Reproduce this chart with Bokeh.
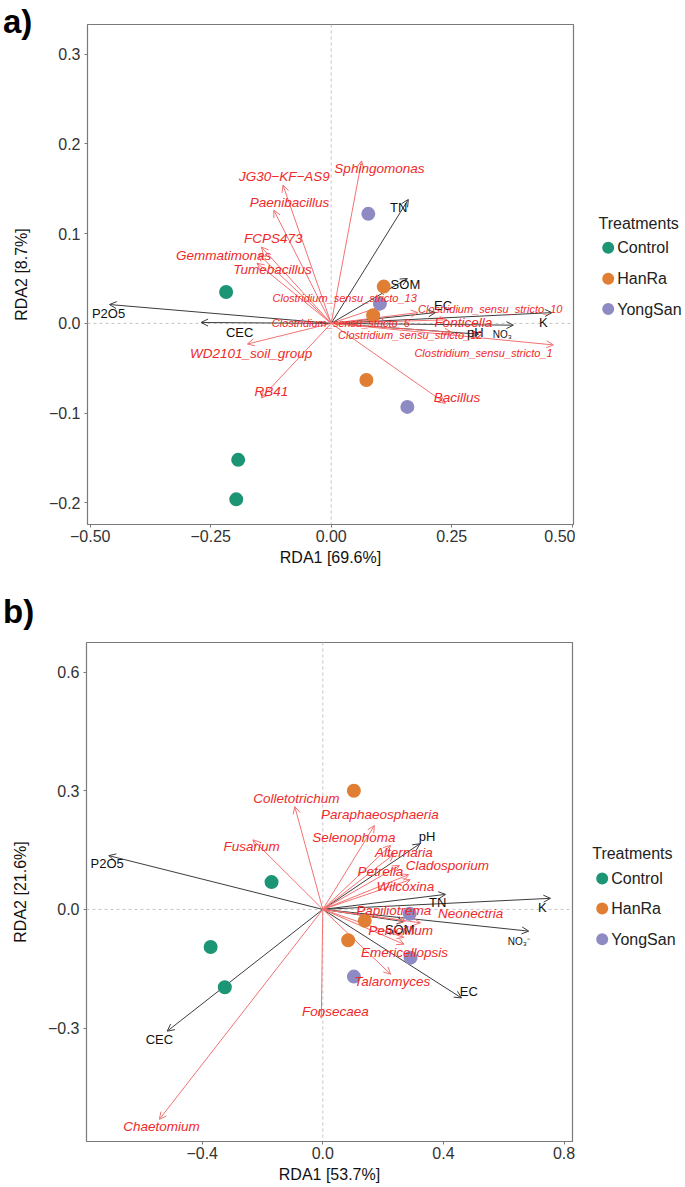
from bokeh.plotting import figure
from bokeh.models import (Range1d, FixedTicker, CustomJSTickFormatter, Arrow, OpenHead,
                          ColumnDataSource, Span, Div)
from bokeh.layouts import column, row
from bokeh.embed import file_html
from bokeh.resources import INLINE
from bokeh.core.properties import value

FONT = "Liberation Sans"

treatments = ["Control", "HanRa", "YongSan"]
treat_colors = ["#1B9574", "#E07F33", "#8E8AC4"]

# ---------------- panel a (bacteria) ----------------
a_sample_treat = ["Control", "Control", "Control", "HanRa", "HanRa", "HanRa",
                  "YongSan", "YongSan", "YongSan"]
a_sample_x = [-0.218, -0.193, -0.197, 0.109, 0.087, 0.073, 0.077, 0.101, 0.158]
a_sample_y = [0.035, -0.152, -0.196, 0.041, 0.009, -0.063, 0.122, 0.022, -0.093]

a_env_names = ["P2O5", "CEC", "TN", "SOM", "EC", "K", "pH", "NO\u2083"]
a_env_x = [-0.460, -0.270, 0.160, 0.158, 0.216, 0.458, 0.306, 0.378]
a_env_y = [0.021, 0.001, 0.138, 0.050, 0.012, 0.012, -0.012, -0.002]
a_env_lx = [-0.462, -0.190, 0.140, 0.154, 0.232, 0.440, 0.299, 0.355]
a_env_ly = [0.0115, -0.0097, 0.129, 0.043, 0.020, 0.0007, -0.0105, -0.012]

a_sp_names = ["Sphingomonas", "JG30\u2212KF\u2212AS9", "Paenibacillus", "FCPS473",
              "Gemmatimonas", "Tumebacillus", "Clostridium_sensu_stricto_13",
              "Clostridium_sensu_stricto_10", "Fonticella", "Clostridium_sensu_stricto_6",
              "Clostridium_sensu_stricto_12", "Clostridium_sensu_stricto_1",
              "WD2101_soil_group", "RB41", "Bacillus"]
a_sp_x = [0.063, -0.100, -0.119, -0.145, -0.151, -0.154, 0.110,
          0.180, 0.240, 0.100, 0.250, 0.461, -0.174, -0.145, 0.237]
a_sp_y = [0.181, 0.154, 0.126, 0.085, 0.077, 0.067, 0.020,
          0.012, 0.004, 0.004, -0.010, -0.024, -0.023, -0.083, -0.089]
a_sp_lx = [0.100, -0.097, -0.0865, -0.120, -0.223, -0.122, 0.028,
           0.330, 0.274, 0.020, 0.164, 0.316, -0.166, -0.124, 0.261]
a_sp_ly = [0.173, 0.164, 0.135, 0.094, 0.076, 0.0595, 0.028,
           0.0163, 0.0015, 0.000, -0.013, -0.033, -0.0335, -0.0756, -0.083]

a_xticks = [-0.50, -0.25, 0.00, 0.25, 0.50]
a_yticks = [-0.2, -0.1, 0.0, 0.1, 0.2, 0.3]
a_xlabel = "RDA1 [69.6%]"
a_ylabel = "RDA2 [8.7%]"

# ---------------- panel b (fungi) ----------------
b_sample_treat = a_sample_treat
b_sample_x = [-0.170, -0.372, -0.325, 0.103, 0.139, 0.084, 0.288, 0.291, 0.103]
b_sample_y = [0.069, -0.095, -0.197, 0.300, -0.029, -0.078, -0.011, -0.122, -0.170]

b_env_names = ["P2O5", "CEC", "pH", "TN", "K", "NO\u2083\u207b", "SOM", "EC"]
b_env_x = [-0.710, -0.516, 0.322, 0.407, 0.755, 0.683, 0.269, 0.460]
b_env_y = [0.136, -0.308, 0.166, 0.038, 0.028, -0.055, -0.031, -0.224]
b_env_lx = [-0.715, -0.542, 0.346, 0.381, 0.728, 0.650, 0.255, 0.484]
b_env_ly = [0.115, -0.330, 0.185, 0.017, 0.006, -0.080, -0.050, -0.207]

b_sp_names = ["Chaetomium", "Fonsecaea", "Colletotrichum", "Fusarium",
              "Paraphaeosphaeria", "Selenophoma", "Alternaria", "Cladosporium",
              "Petrella", "Wilcoxina", "Papiliotrema", "Neonectria", "Penicillium",
              "Emericellopsis", "Talaromyces"]
b_sp_x = [-0.542, -0.005, -0.093, -0.232, 0.171, 0.225, 0.235, 0.285,
          0.254, 0.290, 0.274, 0.324, 0.269, 0.269, 0.225]
b_sp_y = [-0.531, -0.275, 0.260, 0.176, 0.212, 0.162, 0.139, 0.088,
          0.111, 0.075, -0.029, -0.034, -0.071, -0.088, -0.164]
b_sp_lx = [-0.535, 0.042, -0.088, -0.236, 0.189, 0.103, 0.269, 0.413,
           0.191, 0.274, 0.235, 0.490, 0.258, 0.271, 0.230]
b_sp_ly = [-0.548, -0.259, 0.281, 0.159, 0.239, 0.181, 0.144, 0.111,
           0.096, 0.057, -0.004, -0.011, -0.053, -0.108, -0.182]

b_xticks = [-0.4, 0.0, 0.4, 0.8]
b_yticks = [-0.3, 0.0, 0.3, 0.6]
b_xlabel = "RDA1 [53.7%]"
b_ylabel = "RDA2 [21.6%]"

ENV_LINE = "#3c3c3c"
ENV_TEXT = "#111111"
SP_LINE = "#F27272"
SP_TEXT = "#EE2A2A"
FRAME = "#7a7a7a"


def make_panel(width, height, xr, yr, borders, samples, env, sp, xticks, yticks,
               xdig, ydig, xlabel, ylabel):
    mbl, mbr, mbt, mbb = borders
    p = figure(width=width, height=height, x_range=Range1d(*xr), y_range=Range1d(*yr),
               toolbar_location=None, output_backend="svg",
               min_border_left=mbl, min_border_right=mbr, min_border_top=mbt,
               min_border_bottom=mbb, background_fill_color="white",
               border_fill_alpha=0.0)
    p.grid.visible = False
    p.outline_line_color = FRAME
    p.outline_line_width = 1.2

    for dim in ("width", "height"):
        p.add_layout(Span(location=0, dimension=dim, line_color="#c4c4c4",
                          line_dash="3 3", line_width=1, level="underlay"))

    # arrows
    for (names, xs, ys, lxs, lys), lc in ((env, ENV_LINE), (sp, SP_LINE)):
        src = ColumnDataSource(dict(x0=[0.0] * len(xs), y0=[0.0] * len(xs), x=xs, y=ys))
        p.add_layout(Arrow(end=OpenHead(size=7, line_color=lc, line_width=1),
                           source=src, x_start="x0", y_start="y0", x_end="x", y_end="y",
                           line_color=lc, line_width=1, level="underlay"))

    # samples
    stx, sx, sy = samples
    cmap = dict(zip(treatments, treat_colors))
    p.scatter(x=sx, y=sy, size=14, fill_color=[cmap[t] for t in stx], line_color=None)

    # env labels
    names, xs, ys, lxs, lys = env
    small = [n.startswith("NO") for n in names]
    for flag, size in ((False, "13px"), (True, "10px")):
        idx = [i for i, s in enumerate(small) if s == flag]
        p.text(x=[lxs[i] for i in idx], y=[lys[i] for i in idx],
               text=[names[i] for i in idx], text_font=value(FONT),
               text_font_size=size, text_color=ENV_TEXT, text_align="center",
               text_baseline="middle")
    # species labels
    names, xs, ys, lxs, lys = sp
    small = [n.startswith("Clostridium") for n in names]
    for flag, size in ((False, "13.5px"), (True, "11px")):
        idx = [i for i, s in enumerate(small) if s == flag]
        if not idx:
            continue
        p.text(x=[lxs[i] for i in idx], y=[lys[i] for i in idx],
               text=[names[i] for i in idx], text_font=value(FONT),
               text_font_style="italic", text_font_size=size, text_color=SP_TEXT,
               text_align="center", text_baseline="middle")

    # axes
    p.xaxis.ticker = FixedTicker(ticks=xticks)
    p.yaxis.ticker = FixedTicker(ticks=yticks)
    p.xaxis.formatter = CustomJSTickFormatter(args=dict(d=xdig),
        code="return tick.toFixed(d).replace('-', '\\u2212')")
    p.yaxis.formatter = CustomJSTickFormatter(args=dict(d=ydig),
        code="return tick.toFixed(d).replace('-', '\\u2212')")
    p.xaxis.axis_label = xlabel
    p.yaxis.axis_label = ylabel
    for ax in (p.xaxis, p.yaxis):
        ax.axis_line_color = None
        ax.major_tick_line_color = FRAME
        ax.major_tick_out = 3
        ax.major_tick_in = 0
        ax.minor_tick_line_color = None
        ax.major_label_text_font = FONT
        ax.major_label_text_font_size = "16px"
        ax.major_label_text_color = "#333333"
        ax.axis_label_text_font = FONT
        ax.axis_label_text_font_size = "16px"
        ax.axis_label_text_font_style = "normal"
        ax.axis_label_text_color = "#111111"
    p.xaxis.major_label_standoff = 2
    p.xaxis.axis_label_standoff = 4
    p.yaxis.major_label_standoff = 4
    p.yaxis.axis_label_standoff = 16
    return p


def make_legend(width, height, borders, frame_abs, title_xy, dot_x, text_x, ys):
    # legend drawn in page pixels; its frame is aligned with the panel's frame
    mbt, mbb = borders
    lf = figure(width=width, height=height, x_range=Range1d(0, width),
                y_range=Range1d(frame_abs[1], frame_abs[0]), toolbar_location=None,
                output_backend="svg", x_axis_location=None, y_axis_location=None,
                min_border_left=0, min_border_right=0, min_border_top=mbt,
                min_border_bottom=mbb, border_fill_alpha=0.0)
    lf.grid.visible = False
    lf.outline_line_color = None
    lf.text(x=[title_xy[0]], y=[title_xy[1]], text=["Treatments"],
            text_font=value(FONT), text_font_size="16px", text_color="#222222",
            text_align="left", text_baseline="middle")
    lf.scatter(x=[dot_x] * 3, y=ys, size=12, fill_color=treat_colors, line_color=None)
    lf.text(x=[text_x] * 3, y=ys, text=treatments,
            text_font=value(FONT), text_font_size="16px", text_color="#222222",
            text_align="left", text_baseline="middle")
    return lf


def make_tag(tag, top):
    html = ('<div style="position:relative; left:3px; top:%dpx; margin:0; padding:0; '
            'font-family:\'Liberation Sans\', Arial, sans-serif; font-weight:bold; '
            'font-size:33px; line-height:33px; color:#000; white-space:nowrap; '
            'z-index:10;">%s</div>' % (top, tag))
    return Div(text=html, width=60, height=1, margin=0,
               styles={"overflow": "visible", "z-index": "10"})


tag_a = make_tag("a)", 5)
pa = make_panel(575, 588, (-0.5056, 0.5027), (-0.224, 0.3329), (87, 2, 23, 65),
                (a_sample_treat, a_sample_x, a_sample_y),
                (a_env_names, a_env_x, a_env_y, a_env_lx, a_env_ly),
                (a_sp_names, a_sp_x, a_sp_y, a_sp_lx, a_sp_ly),
                a_xticks, a_yticks, 2, 1, a_xlabel, a_ylabel)
la = make_legend(110, 588, (23, 65), (24, 523), (23, 222.7), 32.7, 41.7,
                 [246.7, 277.7, 308.0])

tag_b = make_tag("b)", 6)
pb = make_panel(575, 595, (-0.7837, 0.828), (-0.587, 0.675), (86, 3, 52, 42),
                (b_sample_treat, b_sample_x, b_sample_y),
                (b_env_names, b_env_x, b_env_y, b_env_lx, b_env_ly),
                (b_sp_names, b_sp_x, b_sp_y, b_sp_lx, b_sp_ly),
                b_xticks, b_yticks, 1, 1, b_xlabel, b_ylabel)
lb = make_legend(110, 595, (52, 42), (642, 1143), (16.7, 854), 26.7, 35.7,
                 [879, 909, 940])

layout = column(tag_a, row(pa, la), tag_b, row(pb, lb))
open("out.html", "w").write(file_html(layout, INLINE))
